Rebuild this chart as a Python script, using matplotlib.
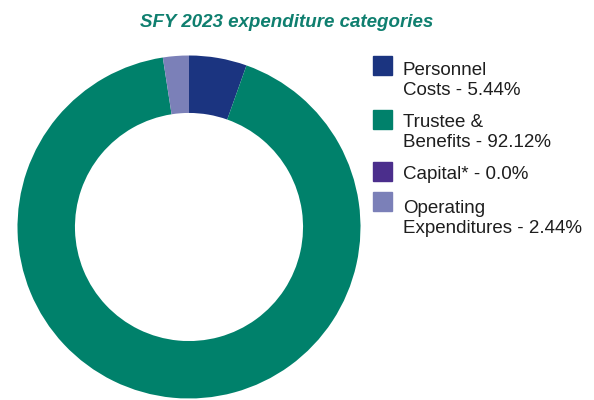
import matplotlib
matplotlib.use("Agg")
import matplotlib.pyplot as plt
from matplotlib.patches import Rectangle

categories = ["Personnel\nCosts", "Trustee &\nBenefits", "Capital*", "Operating\nExpenditures"]
values = [5.44, 92.12, 0.0, 2.44]
value_labels = ["5.44%", "92.12%", "0.0%", "2.44%"]
colors = ["#1B3480", "#00816B", "#4B2E8C", "#7B80B8"]
title = "SFY 2023 expenditure categories"

W, H = 594, 400
fig = plt.figure(figsize=(W / 100, H / 100), dpi=100)

cx, cy, r = 189, 227, 171.5
ax = fig.add_axes([(cx - r) / W, (H - cy - r) / H, 2 * r / W, 2 * r / H])
ax.pie(values, colors=colors, startangle=90, counterclock=False,
       radius=1.0, wedgeprops=dict(width=0.335, edgecolor="none"))
ax.set_xlim(-1, 1)
ax.set_ylim(-1, 1)
ax.set_aspect("equal")
ax.axis("off")

fig.text(287 / W, 1 - 27 / H, title, ha="center", va="baseline",
         fontsize=13.5, fontweight="bold", fontstyle="italic",
         color="#0F7F6F", family=["Liberation Sans", "DejaVu Sans"])

# legend
sq_tops = [56, 110, 162, 192]
first_baselines = [75, 127, 179, 213]
line_step = 20
sq = 19
for cat, lab, col, st, bl in zip(categories, value_labels, colors, sq_tops, first_baselines):
    fig.patches.append(Rectangle((373 / W, 1 - (st + sq) / H), sq / W, sq / H,
                                 transform=fig.transFigure, color=col))
    lines = f"{cat} - {lab}".split("\n")
    for i, ln in enumerate(lines):
        fig.text(403 / W, 1 - (bl + i * line_step) / H, ln, ha="left", va="baseline",
                 fontsize=13.5, color="#1E1E1E",
                 family=["Liberation Sans", "DejaVu Sans"])

fig.savefig("out.png", dpi=100, facecolor="white")
